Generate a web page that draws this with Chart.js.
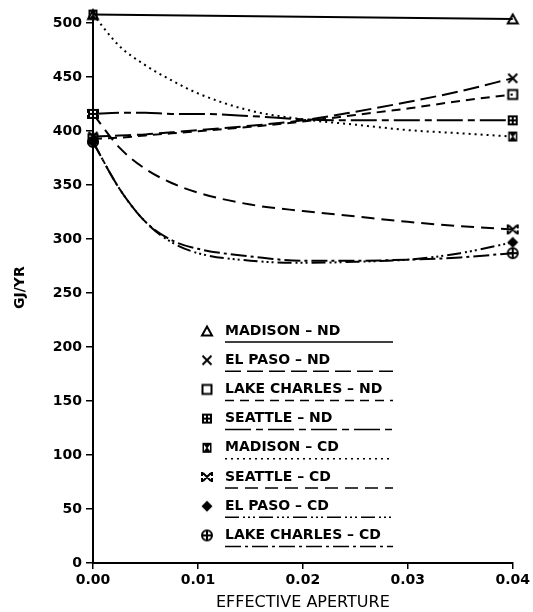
<!DOCTYPE html>
<html>
<head>
<meta charset="utf-8">
<title>GJ/YR vs effective aperture</title>
<script src="https://cdn.jsdelivr.net/npm/chart.js@4.4.0/dist/chart.umd.min.js"></script>
<style>
  html, body { margin: 0; padding: 0; background: #fff; }
</style>
</head>
<body>
<canvas id="chart" width="533" height="612"></canvas>
<script>
/* Annual energy vs effective aperture */

// x positions the curves were read at
const aperture = [0, 0.0025, 0.005, 0.0075, 0.01, 0.015, 0.02, 0.025, 0.03, 0.035, 0.04];
const apertureEnds = [0, 0.04];

// GJ/YR values
const madisonND = [508, 504]; // straight line, only the two ends
const elPasoND = [395, 396, 397, 399, 401, 405, 410, 418, 427, 437, 449];
const lakeCharlesND = [393, 394, 396, 398, 400, 404, 409, 415, 421, 428, 434];
const seattleND = [416, 417, 417, 416, 416, 414, 411, 410, 410, 410, 410];
const madisonCD = [508, 479, 461, 447, 435, 419, 411, 406, 401, 398, 395];
const seattleCD = [416, 385, 365, 352, 343, 332, 326, 321, 316, 312, 309];
const elPasoCD = [390, 347, 316, 297, 287, 280, 278, 279, 281, 287, 297];
const lakeCharlesCD = [390, 347, 316, 299, 291, 284, 280, 280, 281, 283, 287];

const seriesNames = [
  'MADISON – ND', 'EL PASO – ND', 'LAKE CHARLES – ND', 'SEATTLE – ND',
  'MADISON – CD', 'SEATTLE – CD', 'EL PASO – CD', 'LAKE CHARLES – CD'
];

const xTicks = [0, 0.01, 0.02, 0.03, 0.04];
const yTicks = [0, 50, 100, 150, 200, 250, 300, 350, 400, 450, 500];

const INK = '#000';
const tickFont = { family: '"DejaVu Sans", sans-serif', size: 14, weight: 'bold' };

// little canvases used as point markers (chart and legend)
function makeMarker(kind) {
  const c = document.createElement('canvas');
  c.width = 14;
  c.height = 14;
  const g = c.getContext('2d');
  g.strokeStyle = INK;
  g.fillStyle = INK;
  g.lineWidth = 2;
  g.beginPath();
  switch (kind) {
    case 'triangle':
      g.moveTo(7, 2.5); g.lineTo(12, 11.5); g.lineTo(2, 11.5); g.closePath(); g.stroke();
      break;
    case 'cross':
      g.moveTo(2.5, 2.5); g.lineTo(11.5, 11.5); g.moveTo(11.5, 2.5); g.lineTo(2.5, 11.5); g.stroke();
      break;
    case 'square':
      g.strokeRect(2.5, 2.5, 9, 9);
      break;
    case 'squareDots':
      g.fillRect(2, 2, 10, 10);
      g.fillStyle = '#fff';
      g.fillRect(4, 4, 2, 2); g.fillRect(8, 4, 2, 2);
      g.fillRect(4, 8, 2, 2); g.fillRect(8, 8, 2, 2);
      break;
    case 'hourglass':
      g.fillRect(2.5, 2, 9, 10);
      g.fillStyle = '#fff';
      g.moveTo(4, 4); g.lineTo(6.5, 7); g.lineTo(4, 10); g.closePath();
      g.moveTo(10, 4); g.lineTo(7.5, 7); g.lineTo(10, 10); g.closePath();
      g.fill();
      break;
    case 'bowtie':
      g.moveTo(3, 3); g.lineTo(11, 11); g.moveTo(11, 3); g.lineTo(3, 11);
      g.moveTo(2, 2); g.lineTo(2, 6); g.moveTo(2, 8); g.lineTo(2, 12);
      g.moveTo(12, 2); g.lineTo(12, 6); g.moveTo(12, 8); g.lineTo(12, 12);
      g.stroke();
      break;
    case 'diamond':
      g.moveTo(7, 1.5); g.lineTo(12.5, 7); g.lineTo(7, 12.5); g.lineTo(1.5, 7); g.closePath(); g.fill();
      break;
    case 'circlePlus':
      g.arc(7, 7, 5, 0, Math.PI * 2); g.moveTo(2, 7); g.lineTo(12, 7); g.moveTo(7, 2); g.lineTo(7, 12); g.stroke();
      break;
  }
  return c;
}

const markerKinds = ['triangle', 'cross', 'square', 'squareDots', 'hourglass', 'bowtie', 'diamond', 'circlePlus'];
const dashes = [
  [],
  [16, 6],
  [9, 6],
  [26, 5, 7, 5],
  [2, 4],
  [13, 7],
  [14, 4, 2, 3, 2, 3, 2, 4],
  [16, 4, 3, 4]
];
const seriesValues = [madisonND, elPasoND, lakeCharlesND, seattleND, madisonCD, seattleCD, elPasoCD, lakeCharlesCD];

const datasets = seriesValues.map((vals, i) => {
  const xs = vals.length === 2 ? apertureEnds : aperture;
  const marker = makeMarker(markerKinds[i]);
  return {
    label: seriesNames[i],
    data: vals.map((v, j) => ({ x: xs[j], y: v })),
    borderColor: INK,
    backgroundColor: INK,
    borderWidth: 2,
    borderDash: dashes[i],
    fill: false,
    clip: false,
    cubicInterpolationMode: 'monotone',
    pointStyle: marker,
    pointRadius: vals.map((v, j) => (j === 0 || j === vals.length - 1) ? 5 : 0),
    marker: marker
  };
});

// legend drawn inside the plot, with underline showing the line style
const insideLegend = {
  id: 'insideLegend',
  afterDatasetsDraw(chart) {
    const ctx = chart.ctx;
    ctx.save();
    chart.data.datasets.forEach((ds, i) => {
      const y = 331 + i * 29.2;
      ctx.drawImage(ds.marker, 207 - 7, y - 7);
      ctx.font = 'bold 14px "DejaVu Sans", sans-serif';
      ctx.fillStyle = INK;
      ctx.textBaseline = 'middle';
      ctx.fillText(ds.label, 225, y);
      ctx.beginPath();
      ctx.setLineDash(ds.borderDash);
      ctx.lineWidth = 1.5;
      ctx.strokeStyle = INK;
      ctx.moveTo(225, y + 11);
      ctx.lineTo(393, y + 11);
      ctx.stroke();
    });
    ctx.restore();
  }
};

new Chart(document.getElementById('chart'), {
  type: 'line',
  data: { datasets: datasets },
  options: {
    responsive: false,
    animation: false,
    layout: { padding: { top: 11, right: 16, left: 0, bottom: 0 } },
    plugins: {
      legend: { display: false },
      tooltip: { enabled: false }
    },
    scales: {
      x: {
        type: 'linear',
        min: 0,
        max: 0.04,
        afterBuildTicks: s => { s.ticks = xTicks.map(v => ({ value: v })); },
        afterFit: s => { s.height = 49; },
        ticks: {
          callback: v => v.toFixed(2),
          font: tickFont,
          color: INK,
          padding: 3,
          maxRotation: 0
        },
        grid: { drawOnChartArea: false, tickLength: 6, color: INK, lineWidth: 1.5 },
        border: { color: INK, width: 2 },
        title: {
          display: true,
          text: 'EFFECTIVE APERTURE',
          color: INK,
          font: { family: '"DejaVu Sans", sans-serif', size: 16 },
          padding: { top: 2, bottom: 0 }
        }
      },
      y: {
        min: 0,
        max: 510,
        afterBuildTicks: s => { s.ticks = yTicks.map(v => ({ value: v })); },
        afterFit: s => { s.width = 93; },
        ticks: {
          font: tickFont,
          color: INK,
          padding: 4
        },
        grid: { drawOnChartArea: false, tickLength: 7, color: INK, lineWidth: 1.5 },
        border: { color: INK, width: 2 },
        title: {
          display: true,
          text: 'GJ/YR',
          color: INK,
          font: { family: '"DejaVu Sans", sans-serif', size: 14, weight: 'bold' },
          padding: { top: 12, bottom: 0 }
        }
      }
    }
  },
  plugins: [insideLegend]
});
</script>
</body>
</html>
